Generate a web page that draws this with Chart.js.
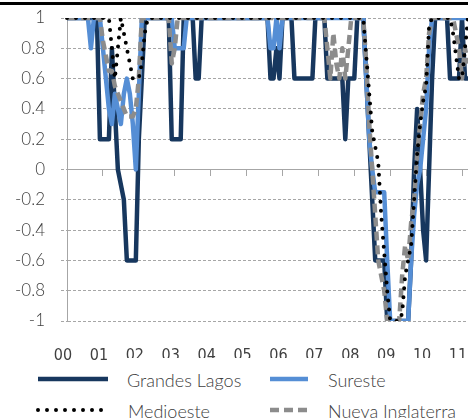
<!DOCTYPE html>
<html>
<head>
<meta charset="utf-8">
<script src="https://cdn.jsdelivr.net/npm/chart.js@4.4.1/dist/chart.umd.min.js"></script>
<style>
    html, body { margin: 0; padding: 0; background: #fff; }
    body { width: 468px; height: 418px; position: relative; overflow: hidden;
           font-family: Lato, 'Open Sans', sans-serif; font-weight: 300; color: #404040; }
    #topRule { position: absolute; left: 0; top: 2px; width: 468px; height: 3px; background: #000; }
    #chartBox { position: absolute; left: 0; top: 0; }
    #legendMask { position: absolute; left: 110px; top: 358px; width: 358px; height: 60px; background: #fff; }
    .legText { position: absolute; font-size: 18px; line-height: 20px; white-space: nowrap; }
    .legLine { position: absolute; }
</style>
</head>
<body>
<div id="topRule"></div>
<canvas id="chartBox" width="468" height="360"></canvas>
<div id="legendMask"></div>
<div id="legend"></div>

<script>
// years on the axis (2000 - 2011), monthly data
const years = ['00', '01', '02', '03', '04', '05', '06', '07', '08', '09', '10', '11'];

const grandesLagos = [
    1, 1, 1, 1, 1, 1, 1, 1, 1, 1, 1, 0.2,
    0.2, 0.2, 0.2, 0.8, 0.4, 0, -0.1, -0.2, -0.6, -0.6, -0.6, -0.6,
    0.2, 0.6, 1, 1, 1, 1, 1, 1, 1, 1, 1, 0.2,
    0.2, 0.2, 0.2, 1, 1, 1, 1, 0.6, 0.6, 1, 1, 1,
    1, 1, 1, 1, 1, 1, 1, 1, 1, 1, 1, 1,
    1, 1, 1, 1, 1, 1, 1, 1, 0.6, 0.6, 0.8, 0.6,
    1, 1, 1, 1, 0.6, 0.6, 0.6, 0.6, 0.6, 0.6, 0.6, 1,
    1, 1, 1, 0.6, 0.6, 0.6, 0.6, 0.6, 0.6, 0.2, 0.6, 0.6,
    0.6, 1, 1, 1, 0.6, 0.2, -0.2, -0.6, -0.6, -0.6, -0.6, -1,
    -1, -1, -1, -1, -1, -1, -1, -0.6, 0, 0.4, 0, -0.4,
    -0.6, 0, 0.6, 1, 1, 1, 1, 1, 0.6, 0.6, 0.6, 0.6,
    1, 0.6, 0.6
];

const sureste = [
    1, 1, 1, 1, 1, 1, 1, 1, 0.8, 1, 1, 1,
    0.8, 0.6, 0.4, 0.3, 0.5, 0.4, 0.3, 0.5, 0.6, 0.5, 0.3, 0,
    0.5, 1, 1, 1, 1, 1, 1, 1, 1, 1, 1, 1,
    0.8, 0.8, 0.8, 0.8, 1, 1, 1, 1, 1, 1, 1, 1,
    1, 1, 1, 1, 1, 1, 1, 1, 1, 1, 1, 1,
    1, 1, 1, 1, 1, 1, 1, 1, 0.8, 0.8, 1, 0.8,
    1, 1, 1, 1, 1, 1, 1, 1, 1, 1, 1, 1,
    1, 1, 1, 1, 1, 1, 1, 1, 1, 1, 1, 1,
    1, 1, 1, 1, 0.6, 0.2, 0, -0.15, -0.15, -0.15, -0.15, -0.6,
    -1, -1, -1, -1, -1, -1, -1, -0.6, -0.3, -0.1, 0, 0.2,
    0.4, 0.8, 1, 1, 1, 1, 1, 1, 1, 1, 1, 1,
    1, 1, 1
];

const medioeste = [
    1, 1, 1, 1, 1, 1, 1, 1, 1, 1, 1, 1,
    1, 1, 1, 0.8, 0.6, 0.8, 1, 0.9, 0.8, 0.7, 0.6, 0.6,
    0.6, 0.7, 0.9, 1, 1, 1, 1, 1, 1, 1, 1, 1,
    1, 1, 1, 1, 1, 1, 1, 1, 1, 1, 1, 1,
    1, 1, 1, 1, 1, 1, 1, 1, 1, 1, 1, 1,
    1, 1, 1, 1, 1, 1, 1, 1, 1, 1, 1, 1,
    1, 1, 1, 1, 1, 1, 1, 1, 1, 1, 1, 1,
    1, 1, 1, 1, 1, 1, 1, 1, 1, 1, 1, 1,
    1, 1, 1, 1, 0.75, 0.5, 0.25, 0.15, 0.05, -0.3, -0.55, -0.8,
    -1, -1, -1, -1, -0.95, -0.7, -0.6, -0.5, -0.2, 0.1, 0.3, 0.45,
    0.55, 0.95, 1, 1, 1, 1, 1, 1, 1, 0.9, 0.75, 0.6,
    0.6, 0.8, 1
];

const nuevaInglaterra = [
    1, 1, 1, 1, 1, 1, 1, 1, 1, 1, 1, 1,
    0.85, 0.75, 0.65, 0.65, 0.55, 0.5, 0.45, 0.4, 0.35, 0.35, 0.35, 0.4,
    0.6, 1, 1, 1, 1, 1, 1, 1, 1, 1, 1, 0.7,
    0.8, 1, 1, 1, 1, 1, 1, 1, 1, 1, 1, 1,
    1, 1, 1, 1, 1, 1, 1, 1, 1, 1, 1, 1,
    1, 1, 1, 1, 1, 1, 1, 1, 1, 1, 1, 1,
    1, 1, 1, 1, 1, 1, 1, 1, 1, 1, 1, 1,
    1, 1, 1, 0.8, 0.6, 0.9, 0.7, 0.6, 0.8, 0.6, 0.8, 1,
    1, 1, 1, 1, 0.7, 0.3, 0, -0.3, -0.6, -0.7, -0.8, -1,
    -1, -1, -1, -1, -0.7, -0.5, -0.6, -0.35, -0.2, 0.1, 0.3, 0.5,
    0.6, 0.9, 1, 1, 1, 1, 1, 1, 1, 1, 0.9, 0.8,
    0.6, 0.8, 0.7
];

const yTickValues = [-1, -0.8, -0.6, -0.4, -0.2, 0, 0.2, 0.4, 0.6, 0.8, 1];
const yTickLabels = ['-1', '-0.8', '-0.6', '-0.4', '-0.2', '0', '0.2', '0.4', '0.6', '0.8', '1'];

// one label per month, january carries the year
const months = [];
for (let i = 0; i < grandesLagos.length; i++) {
    months.push(years[Math.floor(i / 12)] + '-' + (i % 12 + 1));
}

const series = [
    { label: 'Grandes Lagos', data: grandesLagos, color: '#17375e', width: 4.5, dash: [], cap: 'butt', order: 3 },
    { label: 'Sureste', data: sureste, color: '#558ed5', width: 4.5, dash: [], cap: 'butt', order: 2 },
    { label: 'Medioeste', data: medioeste, color: '#000000', width: 4, dash: [0, 9], cap: 'round', order: 0 },
    { label: 'Nueva Inglaterra', data: nuevaInglaterra, color: '#8c8c8c', width: 4.5, dash: [9, 5], cap: 'butt', order: 1 }
];

const axisGray = '#a6a6a6';
const fontSpec = { family: "Lato, 'Open Sans', sans-serif", size: 17, weight: 300 };
const xFont = { family: "'Liberation Sans Narrow', 'DejaVu Sans Condensed', sans-serif", size: 16 };

// keep the plot box where the original has it
const noOverflow = s => { s.paddingLeft = 0; s.paddingRight = 0; s.paddingTop = 0; s.paddingBottom = 0; };

new Chart(document.getElementById('chartBox'), {
    type: 'line',
    data: {
        labels: months,
        datasets: series.map(s => ({
            label: s.label,
            data: s.data,
            borderColor: s.color,
            backgroundColor: s.color,
            borderWidth: s.width,
            borderDash: s.dash,
            borderCapStyle: s.cap,
            borderJoinStyle: 'round',
            pointRadius: 0,
            tension: 0,
            fill: false,
            order: s.order,
            xAxisID: 'x',
            yAxisID: 'y'
        }))
    },
    options: {
        responsive: false,
        animation: false,
        layout: { padding: { top: 18, left: 0, right: 0, bottom: 0 } },
        plugins: {
            legend: { display: false },
            tooltip: { enabled: false }
        },
        scales: {
            y: {
                min: -1,
                max: 1,
                afterBuildTicks: s => { s.ticks = yTickValues.map(v => ({ value: v })); },
                afterFit: s => { s.width = 67; noOverflow(s); },
                ticks: {
                    padding: 16,
                    color: '#404040',
                    font: fontSpec,
                    callback: (v, i) => yTickLabels[i]
                },
                grid: {
                    color: axisGray,
                    lineWidth: 1,
                    tickLength: 6,
                    tickBorderDash: [3, 2]
                },
                border: { display: true, color: axisGray, width: 1, dash: [3, 2] }
            },
            // axis line through zero with year tick marks
            x: {
                position: { y: 0 },
                afterFit: noOverflow,
                ticks: { display: false, autoSkip: false },
                grid: {
                    drawOnChartArea: false,
                    drawTicks: true,
                    tickLength: 6,
                    color: 'rgba(0,0,0,0)',
                    tickColor: ctx => (ctx.index % 12 === 0 ? axisGray : 'rgba(0,0,0,0)')
                },
                border: { display: true, color: axisGray, width: 1 }
            },
            // year labels along the bottom
            xl: {
                type: 'category',
                position: 'bottom',
                afterFit: s => { s.height = 39; noOverflow(s); },
                ticks: {
                    autoSkip: false,
                    maxRotation: 0,
                    padding: 25,
                    labelOffset: -4,
                    color: '#404040',
                    font: xFont,
                    callback: (v, i) => (i % 12 === 0 ? years[i / 12] : '')
                },
                grid: { display: false, drawTicks: false },
                border: { display: false }
            }
        }
    }
});

// legend, laid out in two columns like the original
const legendPos = [
    { left: 38, lineW: 70, top: 379, textLeft: 127 },
    { left: 270, lineW: 38, top: 379, textLeft: 328 },
    { left: 38, lineW: 66, top: 410, textLeft: 128 },
    { left: 270, lineW: 38, top: 410, textLeft: 328 }
];
const legend = document.getElementById('legend');
series.forEach((s, i) => {
    const p = legendPos[i];
    const svg = document.createElementNS('http://www.w3.org/2000/svg', 'svg');
    svg.setAttribute('class', 'legLine');
    svg.setAttribute('width', p.lineW + 4);
    svg.setAttribute('height', 10);
    svg.style.left = (p.left - 2) + 'px';
    svg.style.top = (p.top - 5) + 'px';
    const ln = document.createElementNS('http://www.w3.org/2000/svg', 'line');
    ln.setAttribute('x1', 2);
    ln.setAttribute('x2', p.lineW + 2);
    ln.setAttribute('y1', 5);
    ln.setAttribute('y2', 5);
    ln.setAttribute('stroke', s.color);
    ln.setAttribute('stroke-width', s.width);
    ln.setAttribute('stroke-linecap', s.cap);
    if (s.dash.length) ln.setAttribute('stroke-dasharray', s.dash.join(' '));
    svg.appendChild(ln);
    legend.appendChild(svg);

    const t = document.createElement('div');
    t.className = 'legText';
    t.textContent = s.label;
    t.style.left = p.textLeft + 'px';
    t.style.top = (p.top - 9) + 'px';
    legend.appendChild(t);
});
</script>
</body>
</html>
